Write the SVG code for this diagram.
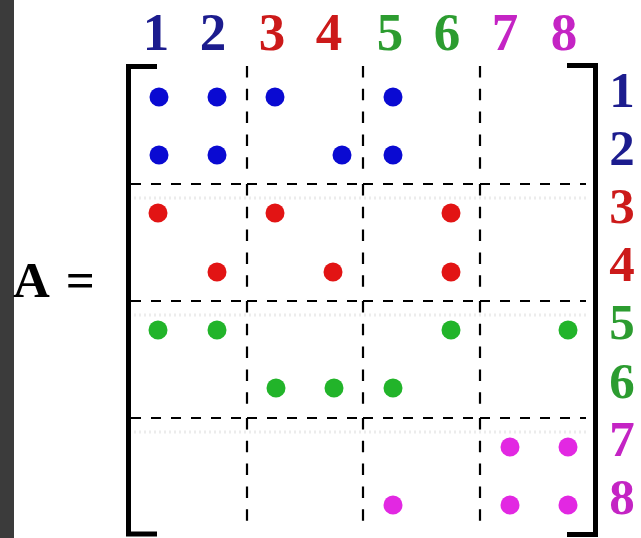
<svg xmlns="http://www.w3.org/2000/svg" width="641" height="538" viewBox="0 0 641 538">
<style>
.lbl{font-family:"Liberation Serif","Times New Roman",serif;font-weight:bold;text-anchor:middle}
.col{font-size:53px}
.row{font-size:51px}
.blue{fill:#1c1c8e}
.red{fill:#cc1a1a}
.green{fill:#2c9c30}
.mag{fill:#c424c4}
.b{fill:#0a0ad2}
.r{fill:#e21414}
.g{fill:#22b42a}
.m{fill:#e228e2}
.br{fill:none;stroke:#000;stroke-width:5}
.dh{stroke:#000;stroke-width:2.2;stroke-dasharray:10 10;fill:none}
.dv{stroke:#000;stroke-width:2.2;stroke-dasharray:11.5 11.3;fill:none}
.faint{stroke:#ececec;stroke-width:3;stroke-dasharray:2 3;fill:none}
</style>
<rect x="0" y="0" width="641" height="538" fill="#ffffff"/>
<rect x="0" y="0" width="14" height="538" fill="#3b3b3b"/>

<g id="matrix-name">
<text x="13" y="297" font-family="'Liberation Serif','Times New Roman',serif" font-weight="bold" font-size="51" fill="#000">A<tspan dx="6"> =</tspan></text>
</g>

<g id="column-labels" class="lbl col">
<text x="156" y="50" class="blue">1</text>
<text x="213" y="50" class="blue">2</text>
<text x="272" y="50" class="red">3</text>
<text x="329" y="50" class="red">4</text>
<text x="390" y="50" class="green">5</text>
<text x="447" y="50" class="green">6</text>
<text x="505" y="50" class="mag">7</text>
<text x="564" y="50" class="mag">8</text>
</g>

<g id="row-labels" class="lbl row">
<text x="622" y="107" class="blue">1</text>
<text x="622" y="165" class="blue">2</text>
<text x="622" y="223" class="red">3</text>
<text x="622" y="281" class="red">4</text>
<text x="622" y="339" class="green">5</text>
<text x="622" y="398" class="green">6</text>
<text x="622" y="456" class="mag">7</text>
<text x="622" y="514" class="mag">8</text>
</g>

<g id="brackets">
<path class="br" d="M157,66.5 H128.5 V534 H157"/>
<path class="br" d="M567,65.5 H595.5 V534.5 H567"/>
</g>

<g id="block-lines">
<path class="faint" d="M134,198 H588 M134,315 H588 M134,432 H588"/>
<path class="dh" d="M131,184 H241 M247,184 H357 M363,184 H474 M480,184 H586"/>
<path class="dh" d="M131,301 H241 M247,301 H357 M363,301 H474 M480,301 H586"/>
<path class="dh" d="M131,418 H241 M247,418 H357 M363,418 H474 M480,418 H586"/>
<path class="dv" d="M247,66 V171 M247,184 V289 M247,301 V406 M247,418 V523"/>
<path class="dv" d="M363,66 V171 M363,184 V289 M363,301 V406 M363,418 V523"/>
<path class="dv" d="M480,66 V171 M480,184 V289 M480,301 V406 M480,418 V523"/>
</g>

<g id="entries">
<circle class="b" cx="159" cy="97" r="9.5"/>
<circle class="b" cx="217" cy="97" r="9.5"/>
<circle class="b" cx="275" cy="97" r="9.5"/>
<circle class="b" cx="393" cy="97" r="9.5"/>
<circle class="b" cx="159" cy="155" r="9.5"/>
<circle class="b" cx="217" cy="155" r="9.5"/>
<circle class="b" cx="342" cy="155" r="9.5"/>
<circle class="b" cx="393" cy="155" r="9.5"/>
<circle class="r" cx="158" cy="213" r="9.5"/>
<circle class="r" cx="275" cy="213" r="9.5"/>
<circle class="r" cx="451" cy="213" r="9.5"/>
<circle class="r" cx="217" cy="272" r="9.5"/>
<circle class="r" cx="333" cy="272" r="9.5"/>
<circle class="r" cx="451" cy="272" r="9.5"/>
<circle class="g" cx="158" cy="330" r="9.5"/>
<circle class="g" cx="217" cy="330" r="9.5"/>
<circle class="g" cx="451" cy="330" r="9.5"/>
<circle class="g" cx="568" cy="330" r="9.5"/>
<circle class="g" cx="276" cy="388" r="9.5"/>
<circle class="g" cx="334" cy="388" r="9.5"/>
<circle class="g" cx="393" cy="388" r="9.5"/>
<circle class="m" cx="510" cy="447" r="9.5"/>
<circle class="m" cx="568" cy="447" r="9.5"/>
<circle class="m" cx="393" cy="505" r="9.5"/>
<circle class="m" cx="510" cy="505" r="9.5"/>
<circle class="m" cx="568" cy="505" r="9.5"/>
</g>
</svg>
